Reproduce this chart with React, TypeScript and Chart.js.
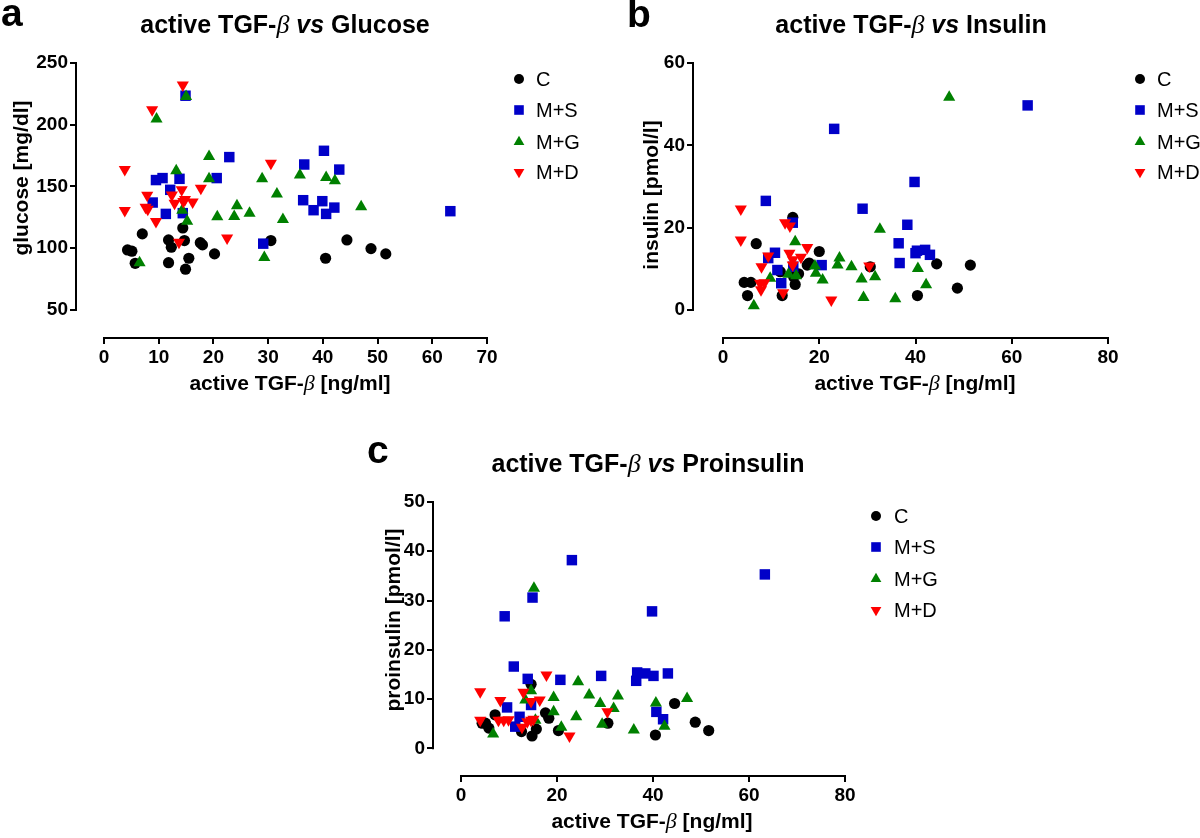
import React, { useEffect, useRef } from "react";
import { Chart, registerables } from "chart.js";

Chart.register(...registerables);

type Pt = [number, number];

// ---------- DATA ----------
const groupNames = ["C", "M+S", "M+G", "M+D"];

// Panel a: active TGF-β [ng/ml] vs glucose [mg/dl]
const glucoseC: Pt[] = [[4.3, 98.6], [5.1, 97.6], [5.7, 87.8], [7.0, 111.6], [11.8, 106.7], [12.3, 100.8], [11.8, 88.3], [14.4, 116.4], [14.7, 106.2], [15.5, 91.9], [14.9, 83], [17.6, 104.5], [18.0, 102.7], [20.2, 95.4], [30.5, 106.2], [40.5, 91.9], [44.4, 106.7], [48.8, 99.7], [51.5, 95.4]];
const glucoseMS: Pt[] = [[14.9, 223.5], [8.9, 137], [9.5, 155.2], [10.7, 156.8], [11.3, 127.8], [12.1, 147.3], [13.8, 156.2], [14.4, 128.4], [20.6, 156.8], [22.9, 173.8], [29.1, 103.7], [36.6, 167.8], [40.2, 178.9], [43.0, 163.7], [36.4, 138.9], [38.3, 130.8], [39.9, 138.1], [40.6, 127.8], [42.1, 132.9], [63.3, 130]];
const glucoseMG: Pt[] = [[15.0, 222.9], [9.6, 204.6], [13.2, 162.7], [14.3, 130.8], [15.2, 121.9], [6.5, 88.3], [19.2, 174.3], [19.2, 156.2], [20.7, 125.4], [24.3, 134.3], [23.8, 125.6], [26.6, 128.4], [28.9, 156.2], [31.6, 144], [32.7, 123.2], [29.3, 92.4], [35.8, 159.3], [40.6, 157.2], [42.2, 154.6], [47.0, 133.5]];
const glucoseMD: Pt[] = [[14.4, 232.2], [8.8, 212.1], [3.8, 163.7], [3.8, 130.5], [7.9, 143], [7.6, 133.2], [8.0, 131.6], [9.5, 121.6], [12.4, 143.2], [12.9, 136.5], [14.2, 147.3], [14.5, 137.8], [14.8, 139.5], [16.2, 137.5], [17.7, 148.6], [13.7, 104.8], [22.5, 108.3], [30.5, 168.9]];

// Panel b: active TGF-β [ng/ml] vs insulin [pmol/l]
const insulinC: Pt[] = [[6.9, 16.1], [4.4, 6.7], [5.8, 6.7], [5.1, 3.5], [14.5, 22.5], [20.0, 14.2], [17.5, 10.9], [17.9, 11.4], [11.9, 9.3], [15.0, 6.2], [12.3, 3.5], [15.7, 8.8], [14.7, 8.0], [30.6, 10.5], [44.4, 11.2], [51.4, 10.9], [40.4, 3.5], [48.7, 5.3]];
const insulinMS: Pt[] = [[8.9, 26.5], [14.5, 21.2], [10.8, 13.9], [9.4, 12.6], [11.3, 9.7], [12.1, 6.5], [14.6, 10.5], [20.5, 10.9], [29.0, 24.6], [23.1, 44.0], [63.3, 49.7], [39.8, 31.1], [38.3, 20.7], [36.5, 16.2], [40.3, 14.4], [42.0, 14.6], [43.0, 13.4], [40.0, 13.8], [36.7, 11.4]];
const insulinMG: Pt[] = [[15.0, 16.6], [9.8, 7.7], [13.6, 8.7], [15.2, 8.3], [19.1, 10.7], [19.3, 8.9], [20.7, 7.3], [24.2, 12.6], [23.8, 10.9], [26.7, 10.5], [6.4, 1.0], [32.6, 19.6], [28.8, 7.5], [31.6, 8.1], [29.2, 3.0], [35.8, 2.7], [40.5, 10.1], [42.2, 6.1], [47.0, 51.7]];
const insulinMD: Pt[] = [[3.7, 24.5], [3.7, 17.0], [12.9, 21.2], [13.9, 20.4], [8.0, 10.5], [9.4, 13.1], [13.8, 13.8], [14.5, 12.2], [16.2, 12.8], [17.5, 15.2], [14.5, 10.9], [7.7, 6.5], [8.6, 6.6], [7.9, 4.9], [12.5, 4.2], [22.5, 2.4], [30.4, 10.7]];

// Panel c: active TGF-β [ng/ml] vs proinsulin [pmol/l]
const proinsulinC: Pt[] = [[4.4, 5.1], [5.1, 5.1], [5.8, 4.1], [7.1, 6.8], [12.6, 3.4], [14.6, 13.0], [14.8, 2.5], [15.7, 3.9], [17.6, 7.2], [18.3, 6.1], [20.3, 3.6], [30.6, 5.1], [40.5, 2.7], [44.5, 9.1], [48.8, 5.3], [51.6, 3.6]];
const proinsulinMS: Pt[] = [[23.1, 38.2], [14.9, 30.6], [9.1, 26.8], [11.0, 16.6], [13.9, 14.1], [20.7, 13.9], [14.6, 8.8], [9.6, 8.3], [12.2, 6.4], [11.3, 4.4], [29.2, 14.7], [36.7, 15.4], [38.4, 15.2], [40.1, 14.7], [36.5, 13.7], [43.1, 15.2], [40.7, 7.4], [42.1, 5.9], [39.8, 27.8], [63.3, 35.3]];
const proinsulinMG: Pt[] = [[14.6, 11.7], [13.4, 9.8], [15.5, 5.7], [6.7, 2.9], [19.3, 10.3], [19.3, 7.4], [20.9, 4.3], [24.4, 13.5], [26.7, 10.8], [24.0, 6.4], [15.2, 32.5], [29.0, 9.1], [32.7, 10.6], [31.8, 8.1], [29.4, 4.9], [36.0, 3.7], [40.6, 9.2], [42.4, 4.5], [47.1, 10.1]];
const proinsulinMD: Pt[] = [[17.8, 14.9], [4.0, 11.5], [8.2, 9.7], [13.0, 11.4], [14.6, 9.5], [16.4, 9.8], [4.0, 5.7], [7.8, 5.7], [8.9, 5.7], [9.9, 5.8], [12.7, 4.3], [13.8, 5.4], [14.6, 5.7], [15.1, 5.9], [22.6, 2.5], [30.5, 7.4]];

// Tick labels
const glucoseXTicks = [0, 10, 20, 30, 40, 50, 60, 70];
const glucoseYTicks = [50, 100, 150, 200, 250];
const insulinXTicks = [0, 20, 40, 60, 80];
const insulinYTicks = [0, 20, 40, 60];
const proinsulinXTicks = [0, 20, 40, 60, 80];
const proinsulinYTicks = [0, 10, 20, 30, 40, 50];

// ---------- STYLE ----------
const COLORS = ["#000000", "#0000c8", "#008000", "#ff0000"];
const MARKERS = [
  { style: "circle", r: 5.6, rot: 0 },
  { style: "rect", r: 7.4, rot: 0 },
  { style: "triangle", r: 7, rot: 0 },
  { style: "triangle", r: 7, rot: 180 },
];
const SANS = '"Liberation Sans", Arial, Helvetica, sans-serif';
const SERIF = '"Liberation Serif", "Times New Roman", serif';
const Y_W = 60;
const X_H = 40;

type Panel = {
  letter: string;
  topic: string;
  yTitle: string;
  groups: Pt[][];
  xTicks: number[];
  yTicks: number[];
  box: { left: number; top: number; width: number; height: number };
  area: { left: number; right: number; top: number; bottom: number };
  xMin: number; xMax: number; yMin: number; yMax: number;
  letterPos: [number, number];
  titlePos: [number, number];
  yTitlePos: [number, number];
  xTitlePos: [number, number];
  legendX: number; legendTextX: number; legendY: number[];
};

const panels: Panel[] = [
  {
    letter: "a", topic: "Glucose", yTitle: "glucose [mg/dl]",
    groups: [glucoseC, glucoseMS, glucoseMG, glucoseMD],
    xTicks: glucoseXTicks, yTicks: glucoseYTicks,
    box: { left: 0, top: 0, width: 600, height: 420 },
    area: { left: 76, right: 487, top: 63, bottom: 338 },
    xMin: -5.117, xMax: 70, yMin: 27.3, yMax: 250,
    letterPos: [1, 26], titlePos: [285, 33], yTitlePos: [22, 178], xTitlePos: [290, 384],
    legendX: 519, legendTextX: 536, legendY: [79, 110, 142, 172],
  },
  {
    letter: "b", topic: "Insulin", yTitle: "insulin [pmol/l]",
    groups: [insulinC, insulinMS, insulinMG, insulinMD],
    xTicks: insulinXTicks, yTicks: insulinYTicks,
    box: { left: 600, top: 0, width: 600, height: 420 },
    area: { left: 93, right: 508, top: 63, bottom: 338 },
    xMin: -6.234, xMax: 80, yMin: -6.81, yMax: 60,
    letterPos: [27, 27], titlePos: [311, 33], yTitlePos: [52, 195], xTitlePos: [315, 384],
    legendX: 540, legendTextX: 557, legendY: [79, 110, 142, 172],
  },
  {
    letter: "c", topic: "Proinsulin", yTitle: "proinsulin [pmol/l]",
    groups: [proinsulinC, proinsulinMS, proinsulinMG, proinsulinMD],
    xTicks: proinsulinXTicks, yTicks: proinsulinYTicks,
    box: { left: 300, top: 430, width: 650, height: 408 },
    area: { left: 133, right: 545, top: 72, bottom: 346 },
    xMin: -5.833, xMax: 80, yMin: -5.62, yMax: 50,
    letterPos: [67, 33], titlePos: [348, 42], yTitlePos: [94, 190], xTitlePos: [352, 392],
    legendX: 576, legendTextX: 594, legendY: [86, 117, 149, 180],
  },
];

type Seg = [string, string];

function drawRich(ctx: CanvasRenderingContext2D, segs: Seg[], cx: number, cy: number, rotate: boolean, baseline: CanvasTextBaseline) {
  ctx.save();
  ctx.translate(cx, cy);
  if (rotate) ctx.rotate(-Math.PI / 2);
  let total = 0;
  const widths = segs.map(([t, f]) => {
    ctx.font = f;
    const w = ctx.measureText(t).width;
    total += w;
    return w;
  });
  let x = -total / 2;
  ctx.textBaseline = baseline;
  ctx.textAlign = "left";
  ctx.fillStyle = "#000";
  segs.forEach(([t, f], i) => {
    ctx.font = f;
    ctx.fillText(t, x, 0);
    x += widths[i];
  });
  ctx.restore();
}

function drawMarker(ctx: CanvasRenderingContext2D, kind: number, x: number, y: number, color: string) {
  ctx.save();
  ctx.fillStyle = color;
  ctx.beginPath();
  if (kind === 0) {
    ctx.arc(x, y, 5, 0, Math.PI * 2);
  } else if (kind === 1) {
    ctx.rect(x - 4.8, y - 4.8, 9.6, 9.6);
  } else {
    const r = 6.2;
    const s = kind === 3 ? -1 : 1;
    ctx.moveTo(x, y - s * r);
    ctx.lineTo(x + r * 0.866, y + s * r * 0.5);
    ctx.lineTo(x - r * 0.866, y + s * r * 0.5);
    ctx.closePath();
  }
  ctx.fill();
  ctx.restore();
}

function makeDecor(p: Panel) {
  return {
    id: "decor" + p.letter,
    afterDraw(chart: any) {
      const ctx: CanvasRenderingContext2D = chart.ctx;
      const xs = chart.scales.x;
      const ys = chart.scales.y;
      const ca = chart.chartArea;
      // axis lines (offset Prism style)
      ctx.save();
      ctx.strokeStyle = "#000";
      ctx.lineWidth = 2;
      ctx.beginPath();
      const x0 = xs.getPixelForValue(p.xTicks[0]) - 1;
      const x1 = xs.getPixelForValue(p.xTicks[p.xTicks.length - 1]) + 1;
      ctx.moveTo(x0, ca.bottom);
      ctx.lineTo(x1, ca.bottom);
      const y0 = ys.getPixelForValue(p.yTicks[0]) + 1;
      const y1 = ys.getPixelForValue(p.yTicks[p.yTicks.length - 1]) - 1;
      ctx.moveTo(ca.left, y0);
      ctx.lineTo(ca.left, y1);
      ctx.stroke();
      ctx.restore();

      // panel letter
      ctx.save();
      ctx.font = `bold 39px ${SANS}`;
      ctx.fillStyle = "#000";
      ctx.textAlign = "left";
      ctx.textBaseline = "alphabetic";
      ctx.fillText(p.letter, p.letterPos[0], p.letterPos[1]);
      ctx.restore();

      // title
      const tf = `bold 25px ${SANS}`;
      drawRich(ctx, [
        ["active TGF-", tf],
        ["\u03b2", `italic 26px ${SERIF}`],
        [" ", tf],
        ["vs", `italic bold 25px ${SANS}`],
        [" " + p.topic, tf],
      ], p.titlePos[0], p.titlePos[1], false, "alphabetic");

      // axis titles
      const af = `bold 21px ${SANS}`;
      drawRich(ctx, [[p.yTitle, af]], p.yTitlePos[0], p.yTitlePos[1], true, "middle");
      drawRich(ctx, [
        ["active TGF-", af],
        ["\u03b2", `italic 22px ${SERIF}`],
        [" [ng/ml]", af],
      ], p.xTitlePos[0], p.xTitlePos[1], false, "middle");

      // legend
      chart.data.datasets.forEach((ds: any, i: number) => {
        const y = p.legendY[i];
        drawMarker(ctx, i, p.legendX, y, COLORS[i]);
        ctx.save();
        ctx.font = `20px ${SANS}`;
        ctx.fillStyle = "#000";
        ctx.textAlign = "left";
        ctx.textBaseline = "middle";
        ctx.fillText(ds.label, p.legendTextX, y + 1);
        ctx.restore();
      });
    },
  };
}

function PanelChart({ p }: { p: Panel }) {
  const ref = useRef<HTMLCanvasElement | null>(null);
  useEffect(() => {
    if (!ref.current) return;
    const tickFont = { family: SANS, size: 19, weight: "bold" as const };
    const chart = new Chart(ref.current, {
      type: "scatter",
      data: {
        datasets: p.groups.map((g, i) => ({
          label: groupNames[i],
          data: g.map(([x, y]) => ({ x, y })),
          pointStyle: MARKERS[i].style as any,
          pointRadius: MARKERS[i].r,
          pointHoverRadius: MARKERS[i].r,
          pointRotation: MARKERS[i].rot,
          pointBackgroundColor: COLORS[i],
          pointBorderColor: COLORS[i],
          pointBorderWidth: 0,
          backgroundColor: COLORS[i],
          borderColor: COLORS[i],
          order: 4 - i,
          clip: false as any,
        })),
      },
      options: {
        animation: false,
        responsive: false,
        maintainAspectRatio: false,
        events: [],
        layout: {
          autoPadding: false,
          padding: {
            left: p.area.left - Y_W,
            top: p.area.top,
            right: p.box.width - p.area.right,
            bottom: p.box.height - p.area.bottom - X_H,
          },
        },
        plugins: {
          legend: { display: false },
          title: { display: false },
          tooltip: { enabled: false },
        },
        scales: {
          x: {
            type: "linear",
            min: p.xMin,
            max: p.xMax,
            afterBuildTicks: (s: any) => { s.ticks = p.xTicks.map((v) => ({ value: v })); },
            afterFit: (s: any) => { s.height = X_H; },
            grid: { display: true, drawOnChartArea: false, drawTicks: true, tickLength: 6, lineWidth: 2, color: "#000" },
            border: { display: false },
            ticks: { color: "#000", font: tickFont, padding: 2, autoSkip: false, maxRotation: 0, callback: (v: any) => String(v) },
          },
          y: {
            type: "linear",
            min: p.yMin,
            max: p.yMax,
            afterBuildTicks: (s: any) => { s.ticks = p.yTicks.map((v) => ({ value: v })); },
            afterFit: (s: any) => { s.width = Y_W; },
            grid: { display: true, drawOnChartArea: false, drawTicks: true, tickLength: 6, lineWidth: 2, color: "#000" },
            border: { display: false },
            ticks: { color: "#000", font: tickFont, padding: 2, autoSkip: false, callback: (v: any) => String(v) },
          },
        },
      },
      plugins: [makeDecor(p)],
    });
    return () => chart.destroy();
  }, [p]);
  return (
    <canvas
      ref={ref}
      width={p.box.width}
      height={p.box.height}
      style={{ position: "absolute", left: p.box.left, top: p.box.top, width: p.box.width, height: p.box.height }}
    />
  );
}

export default function App() {
  return (
    <div style={{ position: "absolute", left: 0, top: 0, width: 1200, height: 838, background: "#fff", overflow: "hidden" }}>
      {panels.map((p) => (
        <PanelChart key={p.letter} p={p} />
      ))}
    </div>
  );
}
